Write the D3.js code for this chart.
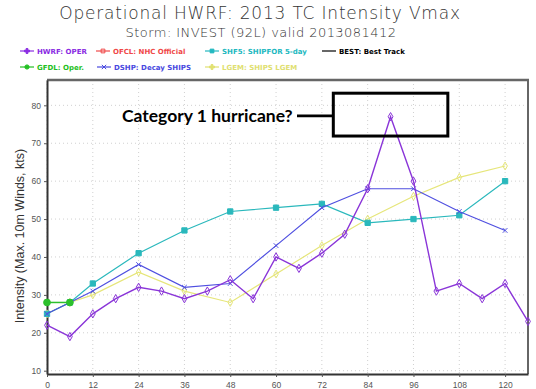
<!DOCTYPE html>
<html>
<head>
<meta charset="utf-8">
<script src="https://cdn.jsdelivr.net/npm/d3@7"></script>
<style>
  body { margin: 0; background: #fff; }
  svg { display: block; }
</style>
</head>
<body>
<script>
// forecast hours and intensity (kts) for each model
var hoursHwrf = [0, 6, 12, 18, 24, 30, 36, 42, 48, 54, 60, 66, 72, 78, 84, 90, 96, 102, 108, 114, 120, 126];
var hwrf      = [22, 19, 25, 29, 32, 31, 29, 31, 34, 29, 40, 37, 41, 46, 58, 77, 60, 31, 33, 29, 33, 23];

var hoursShips = [0, 6, 12, 24, 36, 48, 60, 72, 84, 96, 108, 120];
var dshp = [25, 28, 31, 38, 32, 33, 43, 53, 58, 58, 52, 47];
var shf5 = [25, 28, 33, 41, 47, 52, 53, 54, 49, 50, 51, 60];
var lgem = [25, 28, 30, 36, 31, 28, 35.5, 43, 50, 56, 61, 64];

var hoursGfdl = [0, 6];
var gfdl = [28, 28];

var xTicks = [0, 12, 24, 36, 48, 60, 72, 84, 96, 108, 120];
var yTicks = [10, 20, 30, 40, 50, 60, 70, 80];

// plot box in page pixels
var plot = {left: 47, right: 528, top: 80, bottom: 374};

var svg = d3.select("body").append("svg")
    .attr("width", 536)
    .attr("height", 389);

var x = d3.scaleLinear().domain([0, 126]).range([plot.left, plot.right]);
var y = d3.scaleLinear().domain([9.13, 86.68]).range([plot.bottom, plot.top]);

// titles
svg.append("text")
    .attr("x", 260).attr("y", 19)
    .attr("text-anchor", "middle")
    .style("font-family", "DejaVu Sans")
    .style("font-size", "17px")
    .style("font-weight", "200")
    .style("letter-spacing", "0.8px")
    .style("fill", "#333")
    .text("Operational HWRF: 2013 TC Intensity Vmax");

svg.append("text")
    .attr("x", 261).attr("y", 37)
    .attr("text-anchor", "middle")
    .style("font-family", "DejaVu Sans")
    .style("font-size", "13px")
    .style("font-weight", "200")
    .style("letter-spacing", "0.45px")
    .style("fill", "#333")
    .text("Storm: INVEST (92L) valid 2013081412");

// legend
var legend = [
  {label: "HWRF: OPER", color: "#8a2be2", x: 20, y: 51, sym: "diamond"},
  {label: "OFCL: NHC Official", color: "#f04848", x: 96, y: 51, sym: "osquare"},
  {label: "SHF5: SHIPFOR 5-day", color: "#22b8c0", x: 205, y: 51, sym: "square"},
  {label: "BEST: Best Track", color: "#000", x: 322, y: 51, sym: "none"},
  {label: "GFDL: Oper.", color: "#22c022", x: 20, y: 67, sym: "circle"},
  {label: "DSHP: Decay SHIPS", color: "#4848e0", x: 97, y: 67, sym: "cross"},
  {label: "LGEM: SHIPS LGEM", color: "#e0e070", x: 205, y: 67, sym: "star"}
];

var lg = svg.append("g").selectAll("g")
    .data(legend)
  .enter().append("g")
    .attr("transform", function(d) { return "translate(" + d.x + "," + d.y + ")"; });

lg.append("line")
    .attr("x1", 0).attr("x2", 14)
    .attr("stroke", function(d) { return d.color; })
    .attr("stroke-width", 1.2);

lg.filter(function(d) { return d.sym !== "none"; }).append("path")
    .attr("transform", "translate(7,0)")
    .attr("d", function(d) {
      var t = d.sym === "circle" ? d3.symbolCircle : d.sym === "cross" ? d3.symbolTimes :
              d.sym === "diamond" || d.sym === "star" ? d3.symbolCross : d3.symbolSquare;
      return d3.symbol().type(t).size(14)();
    })
    .attr("fill", function(d) { return d.sym === "osquare" ? "none" : d.color; })
    .attr("stroke", function(d) { return d.color; })
    .attr("stroke-width", 1);

lg.append("text")
    .attr("x", 17).attr("y", 2.5)
    .style("font-family", "DejaVu Sans")
    .style("font-size", "7px")
    .style("font-weight", "bold")
    .style("fill", function(d) { return d.color; })
    .text(function(d) { return d.label; });

// grid
svg.append("g").selectAll("line")
    .data(xTicks)
  .enter().append("line")
    .attr("x1", function(d) { return x(d); })
    .attr("x2", function(d) { return x(d); })
    .attr("y1", plot.top).attr("y2", plot.bottom)
    .attr("stroke", "#d0d0d0")
    .attr("stroke-dasharray", "1,3");

svg.append("g").selectAll("line")
    .data(yTicks)
  .enter().append("line")
    .attr("x1", plot.left).attr("x2", plot.right)
    .attr("y1", function(d) { return y(d); })
    .attr("y2", function(d) { return y(d); })
    .attr("stroke", "#d0d0d0")
    .attr("stroke-dasharray", "1,3");

// frame
svg.append("line").attr("x1", plot.left).attr("x2", plot.right + 1)
    .attr("y1", plot.top).attr("y2", plot.top)
    .attr("stroke", "#666").attr("stroke-width", 2.5);
svg.append("line").attr("x1", plot.right).attr("x2", plot.right)
    .attr("y1", plot.top).attr("y2", plot.bottom)
    .attr("stroke", "#666").attr("stroke-width", 2);

// axes
var xAxis = svg.append("g")
    .attr("transform", "translate(0," + plot.bottom + ")")
    .call(d3.axisBottom(x).tickValues(xTicks).tickSize(3).tickSizeOuter(0));
var yAxis = svg.append("g")
    .attr("transform", "translate(" + plot.left + ",0)")
    .call(d3.axisLeft(y).tickValues(yTicks).tickSize(3).tickSizeOuter(0));

[xAxis, yAxis].forEach(function(a) {
  a.select(".domain").attr("stroke", "#333").attr("stroke-width", 2);
  a.selectAll(".tick line").attr("stroke", "#555");
  a.selectAll("text")
      .style("font-family", "Liberation Sans Narrow, Liberation Sans, sans-serif")
      .style("font-size", "8.5px")
      .style("fill", "#555");
});
xAxis.selectAll("text").attr("dy", "0.9em");

svg.append("text")
    .attr("transform", "translate(24,236) rotate(-90)")
    .attr("text-anchor", "middle")
    .style("font-family", "Liberation Sans")
    .style("font-size", "12.5px")
    .style("fill", "#333")
    .text("Intensity (Max. 10m Winds, kts)");

// series
function series(hours, vals, color, sym, filled, size, sw) {
  var pts = hours.map(function(h, i) { return [h, vals[i]]; });
  var line = d3.line().x(function(d) { return x(d[0]); }).y(function(d) { return y(d[1]); });
  var g = svg.append("g");
  g.append("path")
      .attr("d", line(pts))
      .attr("fill", "none")
      .attr("stroke", color)
      .attr("stroke-width", sw);
  g.selectAll("path.m")
      .data(pts)
    .enter().append("path")
      .attr("class", "m")
      .attr("transform", function(d) { return "translate(" + x(d[0]) + "," + y(d[1]) + ")"; })
      .attr("d", d3.symbol().type(sym).size(size))
      .attr("fill", filled ? color : "none")
      .attr("stroke", color)
      .attr("stroke-width", 1);
}

series(hoursShips, lgem, "#e6e67a", d3.symbolDiamond, false, 18, 1.2);
series(hoursShips, shf5, "#2ab8bc", d3.symbolSquare, true, 28, 1.2);
series(hoursShips, dshp, "#4f4fe0", d3.symbolTimes, false, 16, 1.2);
series(hoursGfdl, gfdl, "#2cc02c", d3.symbolCircle, true, 36, 1.5);
series(hoursHwrf, hwrf, "#8a35d8", d3.symbolDiamond, false, 20, 1.4);

// annotation
svg.append("text")
    .attr("x", 122).attr("y", 122)
    .style("font-family", "Lato")
    .style("font-size", "17.5px")
    .style("font-weight", "bold")
    .style("fill", "#000")
    .text("Category 1 hurricane?");

svg.append("line")
    .attr("x1", 297).attr("x2", x(75))
    .attr("y1", y(77.2)).attr("y2", y(77.2))
    .attr("stroke", "#000").attr("stroke-width", 2.8);

svg.append("rect")
    .attr("x", x(75)).attr("y", y(83.2))
    .attr("width", x(105) - x(75))
    .attr("height", y(71.9) - y(83.2))
    .attr("fill", "none")
    .attr("stroke", "#000")
    .attr("stroke-width", 3);
</script>
</body>
</html>
